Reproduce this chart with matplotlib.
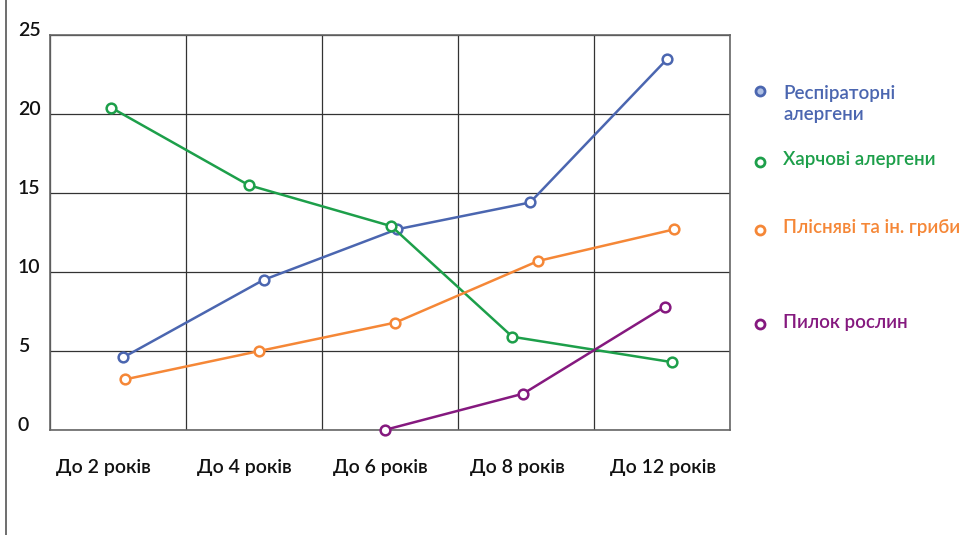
import matplotlib.pyplot as plt
from matplotlib.lines import Line2D
from matplotlib.transforms import blended_transform_factory

plt.rcParams['font.family'] = ['Lato', 'DejaVu Sans']
plt.rcParams['font.weight'] = 'semibold'

# categories (x in cell units, grid cell = 1 age group)
cats = ['До 2 років', 'До 4 років', 'До 6 років', 'До 8 років', 'До 12 років']
cat_pos = [0.39, 1.43, 2.43, 3.44, 4.51]

resp_x = [0.54, 1.57, 2.55, 3.53, 4.54]
resp_y = [4.6, 9.5, 12.7, 14.4, 23.5]

food_x = [0.45, 1.46, 2.51, 3.40, 4.57]
food_y = [20.4, 15.5, 12.9, 5.9, 4.3]

mold_x = [0.55, 1.54, 2.54, 3.59, 4.59]
mold_y = [3.2, 5.0, 6.8, 10.7, 12.7]

pollen_x = [2.46, 3.48, 4.52]
pollen_y = [0.0, 2.3, 7.8]

names = ['Респіраторні\nалергени', 'Харчові алергени', 'Плісняві та ін. гриби', 'Пилок рослин']
colors = ['#4b66b0', '#1d9f4a', '#f58737', '#85197f']
legend_y = [0.830, 0.697, 0.570, 0.394]

fig = plt.figure(figsize=(9.61, 5.35), dpi=100)
ax = fig.add_axes([50 / 961, 105 / 535, 680 / 961, 395 / 535])

series = [(resp_x, resp_y), (food_x, food_y), (mold_x, mold_y), (pollen_x, pollen_y)]
for (xs, ys), c in zip(series, colors):
    ax.plot(xs, ys, color=c, lw=1.8, marker='o', ms=7, mfc='white', mec=c, mew=1.8,
            clip_on=False, zorder=3)

ax.set_xlim(0, 5)
ax.set_ylim(0, 25)
ax.set_xticks(range(6))
ax.set_yticks([0, 5, 10, 15, 20, 25])
ax.grid(True, color='#333333', lw=0.9)
ax.tick_params(length=0, labelleft=False, labelbottom=False)
for s in ax.spines.values():
    s.set_color('#666666')
    s.set_linewidth(1.2)

for p, lab in zip(cat_pos, cats):
    ax.text(p, -0.095, lab, transform=ax.get_xaxis_transform(), ha='center', va='center',
            fontsize=14, color='#111111')

btr = blended_transform_factory(fig.transFigure, ax.transData)
for v in [0, 5, 10, 15, 20, 25]:
    fig.text(18 / 961, v + 0.3, str(v), fontsize=14, color='#111111', ha='left', va='center',
             transform=btr)

# legend drawn beside the plot
for name, c, ly, fc in zip(names, colors, legend_y, ['#aebfe3', 'white', 'white', 'white']):
    fig.add_artist(Line2D([760 / 961], [ly], marker='o', ms=6.5, mfc=fc, mec=c, mew=2,
                          transform=fig.transFigure))
    if '\n' in name:
        fig.text(783 / 961, ly + 0.011, name, color=c, fontsize=13.5, ha='left', va='top',
                 linespacing=1.3)
    else:
        fig.text(783 / 961, ly + 0.004, name, color=c, fontsize=13.5, ha='left', va='center')

# left frame line of the picture
fig.add_artist(Line2D([6 / 961, 6 / 961], [0, 1], color='#555555', lw=1.2, transform=fig.transFigure))

fig.savefig('out.png', dpi=100)
